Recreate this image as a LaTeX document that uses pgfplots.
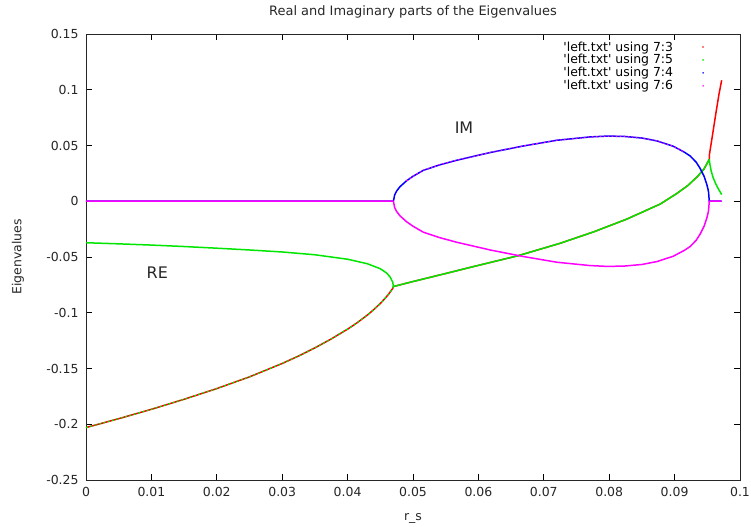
\documentclass[border=0pt]{standalone}
\usepackage{fontspec}
\setmainfont{DejaVu Sans}[Ligatures=TeXOff]
\usepackage{pgfplots}
\usepackage{pgfplotstable}
\pgfplotsset{compat=1.18}

\definecolor{gred}{RGB}{255,0,0}
\definecolor{ggreen}{RGB}{0,230,0}
\definecolor{gblue}{RGB}{0,0,255}
\definecolor{gmag}{RGB}{255,0,255}

\pgfplotsset{gdot/.style={legend image code/.code={\path[draw=none,fill=none] (0bp,-1bp) rectangle (34bp,1bp); \fill[draw=none] (28bp,0bp) circle (0.9bp);}}}

% red: lower real branch, then real part of complex pair, then upward branch
\pgfplotstableread{
x y
0 -0.2030
0.005 -0.1950
0.010 -0.1866
0.015 -0.1776
0.020 -0.1680
0.025 -0.1575
0.030 -0.1455
0.0325 -0.1388
0.035 -0.1315
0.0375 -0.1235
0.040 -0.1147
0.0415 -0.1088
0.043 -0.1022
0.044 -0.0972
0.045 -0.0917
0.0458 -0.0866
0.0463 -0.0831
0.0467 -0.0798
0.0469 -0.0782
0.0470 -0.0765
0.050 -0.0720
0.055 -0.0648
0.060 -0.0575
0.0661 -0.0488
0.0725 -0.0377
0.0776 -0.0275
0.0827 -0.0160
0.0878 -0.0025
0.0903 0.0068
0.0920 0.0140
0.0935 0.0222
0.0945 0.0290
0.0953 0.0375
0.0953 0.0410
0.0958 0.0595
0.0963 0.0785
0.0968 0.0965
0.0972 0.1085
}\redtab

% green: upper real branch, then real part, then downward branch
\pgfplotstableread{
x y
0 -0.0372
0.005 -0.0382
0.010 -0.0393
0.015 -0.0406
0.020 -0.0421
0.025 -0.0437
0.030 -0.0455
0.035 -0.0480
0.040 -0.0520
0.043 -0.0560
0.045 -0.0605
0.046 -0.0645
0.0465 -0.0680
0.0469 -0.0725
0.0470 -0.0765
0.050 -0.0720
0.055 -0.0648
0.060 -0.0575
0.0661 -0.0488
0.0725 -0.0377
0.0776 -0.0275
0.0827 -0.0160
0.0878 -0.0025
0.0903 0.0068
0.0920 0.0140
0.0935 0.0222
0.0945 0.0290
0.0953 0.0375
0.0954 0.0330
0.0956 0.0270
0.0959 0.0210
0.0963 0.0155
0.0967 0.0110
0.0972 0.0060
}\greentab

% green points mixed into the lower real branch
\pgfplotstableread{
x y
0 -0.2030
0.005 -0.1950
0.010 -0.1866
0.015 -0.1776
0.020 -0.1680
0.025 -0.1575
0.030 -0.1455
0.0325 -0.1388
0.035 -0.1315
0.0375 -0.1235
0.040 -0.1147
0.0415 -0.1088
0.043 -0.1022
0.044 -0.0972
0.045 -0.0917
0.0458 -0.0866
0.0463 -0.0831
0.0467 -0.0798
0.0469 -0.0782
0.0470 -0.0765
}\greenlow

% blue: imaginary part (upper)
\pgfplotstableread{
x y
0 0
0.0470 0
0.0472 0.0058
0.0475 0.0092
0.0480 0.0130
0.0490 0.0183
0.0500 0.0224
0.0516 0.0278
0.0540 0.0325
0.0567 0.0368
0.0618 0.0437
0.0669 0.0496
0.0720 0.0547
0.0771 0.0577
0.0796 0.0584
0.0822 0.0582
0.0850 0.0567
0.0873 0.0541
0.0898 0.0493
0.0915 0.0440
0.0924 0.0405
0.0933 0.0350
0.0939 0.0295
0.0945 0.0225
0.0949 0.0155
0.0951 0.0110
0.0952 0.0078
0.0953 0
0.0972 0
}\bluetab

% magenta: imaginary part (lower)
\pgfplotstableread{
x y
0 0
0.0470 0
0.0472 -0.0058
0.0475 -0.0092
0.0480 -0.0130
0.0490 -0.0183
0.0500 -0.0224
0.0516 -0.0278
0.0540 -0.0325
0.0567 -0.0368
0.0618 -0.0437
0.0669 -0.0496
0.0720 -0.0547
0.0771 -0.0577
0.0796 -0.0584
0.0822 -0.0582
0.0850 -0.0567
0.0873 -0.0541
0.0898 -0.0493
0.0915 -0.0440
0.0924 -0.0405
0.0933 -0.0350
0.0939 -0.0295
0.0945 -0.0225
0.0949 -0.0155
0.0951 -0.0110
0.0952 -0.0078
0.0953 0
0.0972 0
}\magtab

% magenta points mixed into the upper imaginary branch
\pgfplotstableread{
x y
0.0490 0.0183
0.0500 0.0224
0.0516 0.0278
0.0540 0.0325
0.0567 0.0368
0.0618 0.0437
0.0669 0.0496
0.0720 0.0547
0.0771 0.0577
0.0796 0.0584
0.0822 0.0582
0.0850 0.0567
0.0873 0.0541
0.0898 0.0493
0.0915 0.0440
}\magup

\begin{document}
\begin{tikzpicture}
\path[use as bounding box] (-86bp,-47bp) rectangle (665bp,480bp);
\begin{axis}[
  at={(0,0)}, anchor=south west,
  scale only axis, width=654bp, height=446bp,
  xmin=0, xmax=0.1, ymin=-0.25, ymax=0.15,
  xtick={0,0.01,0.02,0.03,0.04,0.05,0.06,0.07,0.08,0.09,0.1},
  ytick={-0.25,-0.2,-0.15,-0.1,-0.05,0,0.05,0.1,0.15},
  scaled ticks=false,
  xticklabel={\pgfmathprintnumber[fixed,precision=2,assume math mode=true]{\tick}},
  yticklabel={\pgfmathprintnumber[fixed,precision=2,assume math mode=true]{\tick}},
  tick label style={font=\fontsize{12.5}{14}\selectfont, black!85},
  xticklabel style={yshift=-4bp},
  yticklabel style={xshift=-4bp},
  tick align=inside, major tick length=6bp,
  every tick/.style={black, line width=0.7bp},
  axis line style={line width=0.9bp, black!85},
  legend style={at={(rel axis cs:0.953,0.988)}, anchor=north east, draw=none, fill=none,
    font=\fontsize{12.5}{14}\selectfont, row sep=-2bp, inner sep=0pt},
  legend cell align=right,
  legend plot pos=right,
  every axis plot/.append style={line width=1.5bp, line join=round},
  clip=false,
]
\addplot[color=gred, gdot] table[x=x,y=y] {\redtab};
\addlegendentry{'left.txt' using 7:3}
\addplot[color=ggreen, gdot] table[x=x,y=y] {\greentab};
\addlegendentry{'left.txt' using 7:5}
\addplot[color=ggreen, dash pattern=on 2bp off 2.5bp, line width=1.3bp, forget plot] table[x=x,y=y] {\greenlow};
\addplot[color=gblue, gdot] table[x=x,y=y] {\bluetab};
\addlegendentry{'left.txt' using 7:4}
\addplot[color=gmag, gdot] table[x=x,y=y] {\magtab};
\addlegendentry{'left.txt' using 7:6}
\addplot[color=gmag, dash pattern=on 1.5bp off 2.5bp, line width=1.2bp, forget plot] table[x=x,y=y] {\magup};
\node[font=\fontsize{16}{18}\selectfont, black!85] at (axis cs:0.0109,-0.0645) {RE};
\node[font=\fontsize{16}{18}\selectfont, black!85] at (axis cs:0.0578,0.066) {IM};
\end{axis}
\node[font=\fontsize{13}{15}\selectfont, black!85] at (327bp,468bp) {Real and Imaginary parts of the Eigenvalues};
\node[font=\fontsize{12.5}{14}\selectfont, black!85] at (327bp,-38bp) {r\_s};
\node[font=\fontsize{12.5}{14}\selectfont, black!85, rotate=90] at (-68bp,223bp) {Eigenvalues};
\end{tikzpicture}
\end{document}
